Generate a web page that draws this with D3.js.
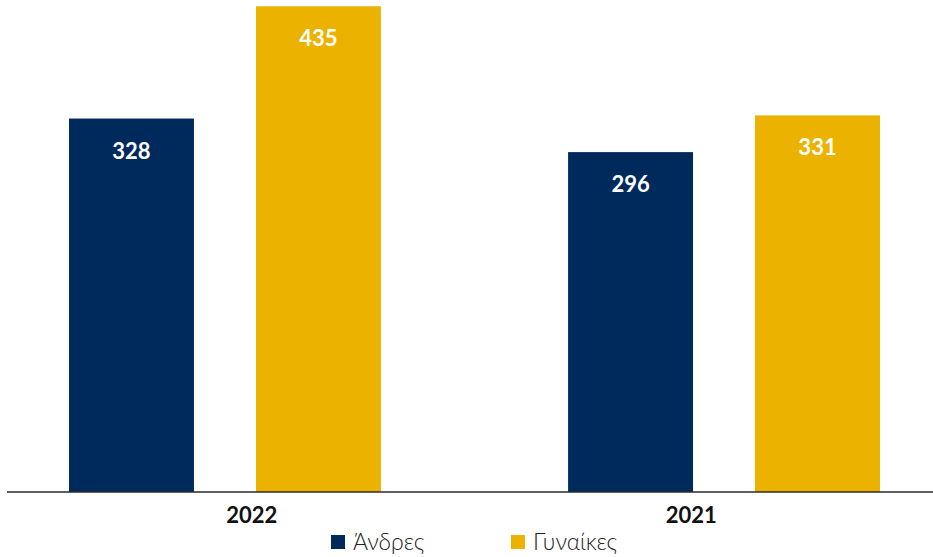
<!DOCTYPE html>
<html>
<head>
<meta charset="utf-8">
<script src="https://cdn.jsdelivr.net/npm/d3@7/dist/d3.min.js"></script>
<style>
  html, body { margin: 0; padding: 0; background: #fff; }
  svg { display: block; }
</style>
</head>
<body>
<svg id="chart" width="933" height="557"></svg>
<script>
const categories = ["2022", "2021"];
const seriesNames = ["Άνδρες", "Γυναίκες"];
const andres = [328, 296];
const gynaikes = [435, 331];
const seriesColors = ["#012a5c", "#ebb300"];

const W = 933, H = 557;
const svg = d3.select("#chart");

const baseY = 492;
const y = d3.scaleLinear().domain([-28, 441]).range([baseY, 0]);

const x0 = d3.scaleBand().domain(categories).range([69, 880]).paddingInner(0.375).paddingOuter(0);
const x1 = d3.scaleBand().domain(seriesNames).range([0, x0.bandwidth()]).paddingInner(62 / 312 * 2 / (1 + 62 / 312)).paddingOuter(0);
// label band for category tick labels
const xLab = d3.scaleBand().domain(categories).range([32, 911]);

const data = categories.map((c, i) => ({ cat: c, values: [andres[i], gynaikes[i]] }));

const groups = svg.selectAll("g.grp").data(data).enter().append("g")
  .attr("class", "grp")
  .attr("transform", d => `translate(${x0(d.cat)},0)`);

groups.selectAll("rect").data(d => d.values.map((v, j) => ({ s: seriesNames[j], v, j })))
  .enter().append("rect")
  .attr("x", d => x1(d.s))
  .attr("width", x1.bandwidth())
  .attr("y", d => y(d.v))
  .attr("height", d => baseY - y(d.v))
  .attr("fill", d => seriesColors[d.j]);

groups.selectAll("text.val").data(d => d.values.map((v, j) => ({ s: seriesNames[j], v, j })))
  .enter().append("text")
  .attr("class", "val")
  .attr("x", d => x1(d.s) + x1.bandwidth() / 2)
  .attr("y", d => y(d.v) + 40)
  .attr("text-anchor", "middle")
  .attr("fill", "#fff")
  .style("font-family", "Lato, 'Open Sans', sans-serif")
  .style("font-weight", "bold")
  .style("font-size", "22px")
  .text(d => d.v);

// baseline axis
const xAxis = d3.axisBottom(xLab).tickSize(0).tickPadding(0);
const axisG = svg.append("g").attr("transform", `translate(0,${baseY})`).call(xAxis);
axisG.select(".domain").remove();
axisG.append("line").attr("x1", 7).attr("x2", W).attr("y1", 0).attr("y2", 0)
  .attr("stroke", "#2b2b2b").attr("stroke-width", 1.6);
axisG.selectAll(".tick text")
  .attr("y", 31)
  .attr("dy", 0)
  .attr("fill", "#111")
  .style("font-family", "Lato, 'Open Sans', sans-serif")
  .style("font-weight", "bold")
  .style("font-size", "22px");

// legend
const legendX = [331, 511];
const lg = svg.selectAll("g.leg").data(seriesNames).enter().append("g")
  .attr("class", "leg")
  .attr("transform", (d, i) => `translate(${legendX[i]},535)`);
lg.append("rect").attr("width", 14).attr("height", 14).attr("fill", (d, i) => seriesColors[i]);
lg.append("text").attr("x", 22).attr("y", 15)
  .style("font-family", "Lato, 'Open Sans', sans-serif")
  .style("font-weight", "300")
  .style("font-size", "23px")
  .attr("fill", "#222")
  .text(d => d);
</script>
</body>
</html>
